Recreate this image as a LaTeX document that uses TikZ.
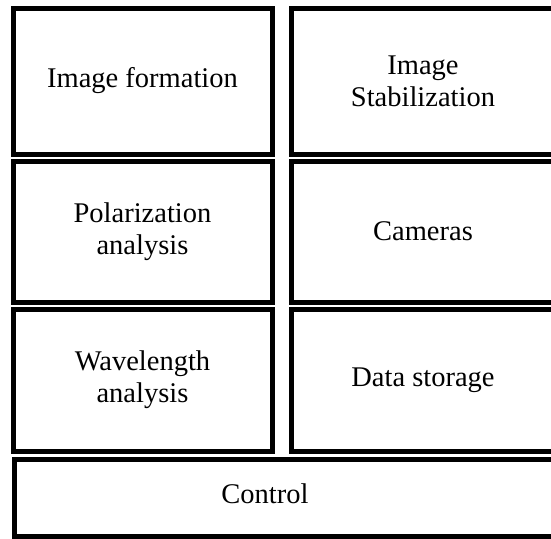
\documentclass[tikz,border=0pt]{standalone}
\usepackage{fontspec}
\setmainfont{Liberation Serif}
\begin{document}
\begin{tikzpicture}[x=1pt,y=-1pt,
  blk/.style={draw=black,line width=5pt,rectangle,inner sep=0pt,
    align=center,font=\fontsize{28.5}{32}\selectfont},
  lbl/.style={inner sep=0pt,align=center,font=\fontsize{28.5}{32}\selectfont}]
\useasboundingbox (0,0) rectangle (551,538);
\clip (0,0) rectangle (551,538);
\fill[white] (0,0) rectangle (551,538);
\node[blk,minimum width=259pt,minimum height=146pt] (imgform) at (142.5,81) {Image formation};
\node[blk,minimum width=264pt,minimum height=146pt] (imgstab) at (423,81) {Image\\Stabilization};
\node[blk,minimum width=259pt,minimum height=141pt] (polar) at (142.5,231.5) {Polarization\\analysis};
\node[blk,minimum width=264pt,minimum height=141pt] (cams) at (423,231.5) {Cameras};
\node[blk,minimum width=259pt,minimum height=142pt] (wave) at (142.5,380) {Wavelength\\analysis};
\node[blk,minimum width=264pt,minimum height=142pt] (data) at (423,380) {Data storage};
\node[blk,minimum width=600pt,minimum height=77pt] (ctrlbox) at (314,497.5) {};
\node[lbl] (ctrl) at (265,494) {Control};
\end{tikzpicture}
\end{document}
